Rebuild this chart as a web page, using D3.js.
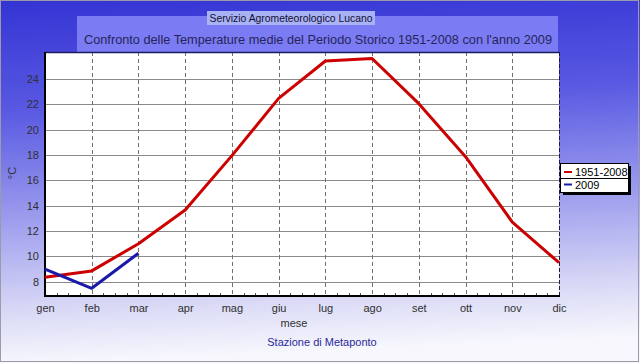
<!DOCTYPE html>
<html><head><meta charset="utf-8">
<script src="https://cdn.jsdelivr.net/npm/d3@7"></script>
<style>html,body{margin:0;padding:0;background:#fff}svg{display:block}</style>
</head><body><svg id="c" width="640" height="363"></svg>
<script>
const months = ["gen","feb","mar","apr","mag","giu","lug","ago","set","ott","nov","dic"];
const storico = [8.35, 8.85, 11.0, 13.66, 17.95, 22.47, 25.42, 25.62, 22.05, 17.87, 12.7, 9.5];
const anno2009 = [9.0, 7.48, 10.25];
const yTicks = [8,10,12,14,16,18,20,22,24];
const seriesNames = ["1951-2008","2009"];
const seriesColors = ["#cc0000","#1a1aaa"];

const svg = d3.select("#c");
const W = 640, H = 363;
const m = {left:45, right:559, top:52, bottom:296};

const defs = svg.append("defs");
const g = defs.append("linearGradient").attr("id","bg").attr("x1","0").attr("y1","0").attr("x2","0.08").attr("y2","1");
[[0,"#3434d4"],[0.3,"#5858e2"],[0.6,"#9c9cee"],[0.85,"#d8d8f6"],[1,"#f7f7fd"]].forEach(([o,c])=>g.append("stop").attr("offset",o).attr("stop-color",c));

svg.append("rect").attr("width",W).attr("height",H).attr("fill","url(#bg)");
svg.append("rect").attr("x",0.5).attr("y",0.5).attr("width",W-2).attr("height",H-2).attr("fill","none").attr("stroke","#9a9aa8").attr("stroke-width",1);

// title band
svg.append("rect").attr("x",77).attr("y",16).attr("width",481).attr("height",36).attr("fill","#7b7bf3");
svg.append("rect").attr("x",207).attr("y",11).attr("width",168).attr("height",14).attr("fill","#aab2f6");
svg.append("text").attr("x",291).attr("y",22).attr("text-anchor","middle")
  .attr("font-family","Liberation Sans, Arial, sans-serif").attr("font-size",11).attr("fill","#101030")
  .attr("textLength",163).attr("lengthAdjust","spacingAndGlyphs")
  .text("Servizio Agrometeorologico Lucano");
svg.append("text").attr("x",318).attr("y",44).attr("text-anchor","middle")
  .attr("font-family","Liberation Sans, Arial, sans-serif").attr("font-size",13.5).attr("fill","#25255a")
  .attr("textLength",468).attr("lengthAdjust","spacingAndGlyphs")
  .text("Confronto delle Temperature medie del Periodo Storico 1951-2008 con l'anno 2009");

const x = d3.scalePoint().domain(months).range([m.left, m.right]);
const y = d3.scaleLinear().domain([6.87, 26.13]).range([m.bottom, m.top]);

// plot background
svg.append("rect").attr("x",m.left).attr("y",m.top).attr("width",m.right-m.left).attr("height",m.bottom-m.top).attr("fill","#ffffff");

// horizontal grid
svg.append("g").selectAll("line").data(yTicks).join("line")
  .attr("x1",m.left).attr("x2",m.right).attr("y1",d=>Math.round(y(d))+0.5).attr("y2",d=>Math.round(y(d))+0.5)
  .attr("stroke","#8a8a8a").attr("stroke-width",1);
// vertical dashed grid
svg.append("g").selectAll("line").data(months.slice(1,11)).join("line")
  .attr("x1",d=>Math.round(x(d))+0.5).attr("x2",d=>Math.round(x(d))+0.5).attr("y1",m.top).attr("y2",m.bottom)
  .attr("stroke","#707070").attr("stroke-width",1).attr("stroke-dasharray","4,3");

// minor ticks on x axis
const step = x.step();
const minor = [];
months.slice(0,11).forEach(mo=>{for(let k=1;k<4;k++) minor.push(x(mo)+k*step/4);});
svg.append("g").selectAll("line").data(minor).join("line")
  .attr("x1",d=>Math.round(d)+0.5).attr("x2",d=>Math.round(d)+0.5).attr("y1",m.bottom-3).attr("y2",m.bottom)
  .attr("stroke","#555").attr("stroke-width",1);

// frame
svg.append("line").attr("x1",m.left).attr("x2",m.right).attr("y1",m.top+0.5).attr("y2",m.top+0.5).attr("stroke","#1c1c60").attr("stroke-width",1.5);
svg.append("line").attr("x1",m.right+0.5).attr("x2",m.right+0.5).attr("y1",m.top).attr("y2",m.bottom).attr("stroke","#1c1c40").attr("stroke-width",1).attr("stroke-dasharray","4,2");

// axes
const yAxis = d3.axisLeft(y).tickValues(yTicks).tickSize(0).tickPadding(6);
const ya = svg.append("g").attr("transform",`translate(${m.left},0)`).call(yAxis);
ya.select(".domain").remove();
ya.selectAll("text").attr("font-family","Liberation Sans, Arial, sans-serif").attr("font-size",11).attr("fill","#303030");

const xAxis = d3.axisBottom(x).tickSize(0).tickPadding(8);
const xa = svg.append("g").attr("transform",`translate(0,${m.bottom})`).call(xAxis);
xa.select(".domain").remove();
xa.selectAll("text").attr("font-family","Liberation Sans, Arial, sans-serif").attr("font-size",11).attr("fill","#303030");

svg.append("line").attr("x1",m.left).attr("x2",m.left).attr("y1",m.top).attr("y2",m.bottom+1).attr("stroke","#000").attr("stroke-width",2);
svg.append("line").attr("x1",m.left-1).attr("x2",m.right+1).attr("y1",m.bottom).attr("y2",m.bottom).attr("stroke","#000").attr("stroke-width",2);

// lines
const line = d3.line().x((d,i)=>x(months[i])).y(d=>y(d));
svg.append("path").datum(storico).attr("d",line).attr("fill","none").attr("stroke",seriesColors[0]).attr("stroke-width",3).attr("stroke-linejoin","round");
svg.append("path").datum(anno2009).attr("d",line).attr("fill","none").attr("stroke",seriesColors[1]).attr("stroke-width",3).attr("stroke-linejoin","round");

// labels
svg.append("text").attr("transform","translate(16,173) rotate(-90)").attr("text-anchor","middle")
  .attr("font-family","Liberation Sans, Arial, sans-serif").attr("font-size",11).attr("fill","#303030").text("°C");
svg.append("text").attr("x",294).attr("y",327).attr("text-anchor","middle")
  .attr("font-family","Liberation Sans, Arial, sans-serif").attr("font-size",11).attr("fill","#303030").text("mese");
svg.append("text").attr("x",322).attr("y",346).attr("text-anchor","middle")
  .attr("font-family","Liberation Sans, Arial, sans-serif").attr("font-size",11).attr("fill","#2a2a9a").text("Stazione di Metaponto");

// legend
const lg = svg.append("g");
lg.append("rect").attr("x",563).attr("y",166).attr("width",68).attr("height",29).attr("fill","#000");
lg.append("rect").attr("x",560.5).attr("y",163.5).attr("width",68).attr("height",29).attr("fill","#fff").attr("stroke","#000").attr("stroke-width",1);
lg.append("line").attr("x1",561).attr("x2",628).attr("y1",178.5).attr("y2",178.5).attr("stroke","#000").attr("stroke-width",1);
seriesNames.forEach((n,i)=>{
  const cy = 172 + i*12.5;
  lg.append("line").attr("x1",564).attr("x2",572).attr("y1",cy).attr("y2",cy).attr("stroke",seriesColors[i]).attr("stroke-width",2);
  lg.append("text").attr("x",575).attr("y",cy+4).attr("font-family","Liberation Sans, Arial, sans-serif").attr("font-size",11).attr("fill","#000").text(n);
});
</script></body></html>
